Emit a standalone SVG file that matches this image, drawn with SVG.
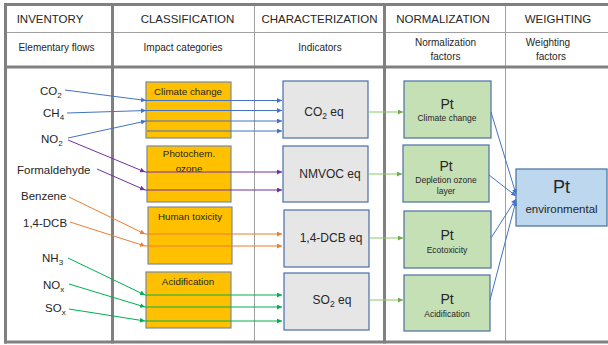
<svg xmlns="http://www.w3.org/2000/svg" width="608" height="345" viewBox="0 0 608 345">
  <style>
    text { font-family: "Liberation Sans", Arial, sans-serif; fill: #262626; }
    .hd { font-size: 11.5px; text-anchor: middle; }
    .sub { font-size: 10px; text-anchor: middle; }
    .flow { font-size: 11.5px; }
    .cat { font-size: 9.8px; text-anchor: middle; }
    .ind { font-size: 12px; text-anchor: middle; }
    .pt { font-size: 14px; text-anchor: middle; }
    .ptl { font-size: 8.5px; text-anchor: middle; }
    .thick { stroke: #808080; stroke-width: 3; fill: none; }
    .thin { stroke: #a0a0a0; stroke-width: 1; fill: none; }
    .catbox { fill: #ffc000; stroke: #7c8aa0; stroke-width: 1.2; }
    .indbox { fill: #e7e6e6; stroke: #4a6fa8; stroke-width: 1.2; }
    .normbox { fill: #c5e0b4; stroke: #4a6fa8; stroke-width: 1.2; }
    .wbox { fill: #bdd7ee; stroke: #41719c; stroke-width: 1.2; }
    .c { fill: none; stroke-width: 1; }
    .blue { stroke: #4472c4; }
    .purple { stroke: #7030a0; }
    .orange { stroke: #ed7d31; }
    .green { stroke: #00b050; }
    .lgreen { stroke: #8cc66a; }
  </style>
  <defs>
    <marker id="ah-blue" viewBox="0 0 6 6" refX="6" refY="3" markerWidth="5" markerHeight="5" markerUnits="userSpaceOnUse" orient="auto"><path d="M0,0 L6,3 L0,6 z" fill="#4472c4"/></marker>
    <marker id="ah-purple" viewBox="0 0 6 6" refX="6" refY="3" markerWidth="5" markerHeight="5" markerUnits="userSpaceOnUse" orient="auto"><path d="M0,0 L6,3 L0,6 z" fill="#7030a0"/></marker>
    <marker id="ah-orange" viewBox="0 0 6 6" refX="6" refY="3" markerWidth="5" markerHeight="5" markerUnits="userSpaceOnUse" orient="auto"><path d="M0,0 L6,3 L0,6 z" fill="#ed7d31"/></marker>
    <marker id="ah-green" viewBox="0 0 6 6" refX="6" refY="3" markerWidth="5" markerHeight="5" markerUnits="userSpaceOnUse" orient="auto"><path d="M0,0 L6,3 L0,6 z" fill="#00b050"/></marker>
    <marker id="ah-lgreen" viewBox="0 0 6 6" refX="6" refY="3" markerWidth="5" markerHeight="5" markerUnits="userSpaceOnUse" orient="auto"><path d="M0,0 L6,3 L0,6 z" fill="#70ad47"/></marker>
  </defs>

  <rect width="608" height="345" fill="#ffffff"/>

  <!-- table grid -->
  <g id="grid">
    <line class="thin" x1="5" y1="32.5" x2="608" y2="32.5"/>
    <line class="thin" x1="254.5" y1="4" x2="254.5" y2="342"/>
    <line class="thin" x1="505.5" y1="4" x2="505.5" y2="342"/>
    <line class="thick" x1="4" y1="4.5" x2="608" y2="4.5"/>
    <line class="thick" x1="4" y1="67" x2="608" y2="67"/>
    <line class="thick" x1="4" y1="342" x2="608" y2="342"/>
    <line class="thick" x1="5.5" y1="3" x2="5.5" y2="343.5"/>
    <line class="thick" x1="112.5" y1="3" x2="112.5" y2="343.5"/>
    <line class="thick" x1="384.5" y1="3" x2="384.5" y2="343.5"/>
  </g>

  <!-- column headers -->
  <g id="headers">
    <text class="hd" x="50" y="23">INVENTORY</text>
    <text class="hd" x="187.5" y="23">CLASSIFICATION</text>
    <text class="hd" x="319.5" y="23">CHARACTERIZATION</text>
    <text class="hd" x="443" y="23">NORMALIZATION</text>
    <text class="hd" x="558" y="23">WEIGHTING</text>
    <text class="sub" x="56.5" y="51">Elementary flows</text>
    <text class="sub" x="183" y="51">Impact categories</text>
    <text class="sub" x="320" y="51">Indicators</text>
    <text class="sub" x="445.5" y="46">Normalization</text>
    <text class="sub" x="445.5" y="60">factors</text>
    <text class="sub" x="548" y="46">Weighting</text>
    <text class="sub" x="551" y="60">factors</text>
  </g>

  <!-- elementary flows -->
  <g id="flows">
    <text class="flow" x="40" y="95">CO<tspan font-size="8" dy="3">2</tspan></text>
    <text class="flow" x="43" y="117">CH<tspan font-size="8" dy="3">4</tspan></text>
    <text class="flow" x="41" y="143">NO<tspan font-size="8" dy="3">2</tspan></text>
    <text class="flow" x="17" y="174">Formaldehyde</text>
    <text class="flow" x="21" y="200">Benzene</text>
    <text class="flow" x="23" y="227">1,4-DCB</text>
    <text class="flow" x="42" y="262">NH<tspan font-size="8" dy="3">3</tspan></text>
    <text class="flow" x="43" y="289">NO<tspan font-size="8" dy="3">x</tspan></text>
    <text class="flow" x="45" y="312">SO<tspan font-size="8" dy="3">x</tspan></text>
  </g>

  <!-- impact categories -->
  <g id="cat-climate">
    <rect class="catbox" x="146" y="82" width="85" height="56"/>
    <text class="cat" x="188" y="95">Climate change</text>
  </g>
  <g id="cat-photochem">
    <rect class="catbox" x="147" y="146" width="84" height="56"/>
    <text class="cat" x="189" y="157">Photochem.</text>
    <text class="cat" x="189" y="172">ozone</text>
  </g>
  <g id="cat-humantox">
    <rect class="catbox" x="148" y="207" width="84" height="57"/>
    <text class="cat" x="190" y="220">Human toxicity</text>
  </g>
  <g id="cat-acid">
    <rect class="catbox" x="146" y="272" width="85" height="56"/>
    <text class="cat" x="188" y="284.5">Acidification</text>
  </g>

  <!-- indicators -->
  <g id="ind-co2">
    <rect class="indbox" x="283" y="81" width="85" height="57"/>
    <text class="ind" x="324" y="116">CO<tspan font-size="8.5" dy="3">2</tspan><tspan dy="-3"> eq</tspan></text>
  </g>
  <g id="ind-nmvoc">
    <rect class="indbox" x="283" y="146" width="85" height="56"/>
    <text class="ind" x="330" y="178">NMVOC eq</text>
  </g>
  <g id="ind-dcb">
    <rect class="indbox" x="284" y="210" width="85" height="57"/>
    <text class="ind" x="331" y="242">1,4-DCB eq</text>
  </g>
  <g id="ind-so2">
    <rect class="indbox" x="284" y="273" width="85" height="57"/>
    <text class="ind" x="332" y="304">SO<tspan font-size="8.5" dy="3">2</tspan><tspan dy="-3"> eq</tspan></text>
  </g>

  <!-- normalization -->
  <g id="norm-climate">
    <rect class="normbox" x="404" y="81" width="87" height="57"/>
    <text class="pt" x="447" y="109">Pt</text>
    <text class="ptl" x="447" y="120.5">Climate change</text>
  </g>
  <g id="norm-ozone">
    <rect class="normbox" x="403" y="145" width="86" height="57"/>
    <text class="pt" x="446" y="171">Pt</text>
    <text class="ptl" x="446" y="183">Depletion ozone</text>
    <text class="ptl" x="446" y="193.5">layer</text>
  </g>
  <g id="norm-ecotox">
    <rect class="normbox" x="404" y="211" width="87" height="57"/>
    <text class="pt" x="447" y="240">Pt</text>
    <text class="ptl" x="447" y="252.5">Ecotoxicity</text>
  </g>
  <g id="norm-acid">
    <rect class="normbox" x="404" y="275" width="86" height="56"/>
    <text class="pt" x="447" y="304">Pt</text>
    <text class="ptl" x="447" y="316.5">Acidification</text>
  </g>

  <!-- weighting -->
  <g id="weight-env">
    <rect class="wbox" x="516" y="169" width="91" height="57"/>
    <text x="561.5" y="193" font-size="18" text-anchor="middle">Pt</text>
    <text x="561.5" y="213" font-size="11.5" text-anchor="middle">environmental</text>
  </g>

  <!-- connectors -->
  <g id="connectors">
    <path class="c blue" d="M65,90 L146,100.5" marker-end="url(#ah-blue)"/>
    <path class="c blue" d="M146,100.5 L282,100.5" marker-end="url(#ah-blue)"/>
    <path class="c blue" d="M67,113 L146,110.5" marker-end="url(#ah-blue)"/>
    <path class="c blue" d="M146,110.5 L282,110.5" marker-end="url(#ah-blue)"/>
    <path class="c blue" d="M68,138 L146,121" marker-end="url(#ah-blue)"/>
    <path class="c blue" d="M146,121 L282,121" marker-end="url(#ah-blue)"/>
    <path class="c blue" d="M147,131 L282,131" marker-end="url(#ah-blue)"/>

    <path class="c purple" d="M68,140 L145,172" marker-end="url(#ah-purple)"/>
    <path class="c purple" d="M145,172 L282,172" marker-end="url(#ah-purple)"/>
    <path class="c purple" d="M97,169 L145,190" marker-end="url(#ah-purple)"/>
    <path class="c purple" d="M145,190 L282,190" marker-end="url(#ah-purple)"/>

    <path class="c orange" d="M69,197 L145,234" marker-end="url(#ah-orange)"/>
    <path class="c orange" d="M145,234 L282,234" marker-end="url(#ah-orange)"/>
    <path class="c orange" d="M70,222 L145,246" marker-end="url(#ah-orange)"/>
    <path class="c orange" d="M145,246 L282,246" marker-end="url(#ah-orange)"/>

    <path class="c green" d="M68,258 L145,295" marker-end="url(#ah-green)"/>
    <path class="c green" d="M145,295 L282,295" marker-end="url(#ah-green)"/>
    <path class="c green" d="M69,284 L145,307" marker-end="url(#ah-green)"/>
    <path class="c green" d="M145,307 L282,307" marker-end="url(#ah-green)"/>
    <path class="c green" d="M69,309 L145,321" marker-end="url(#ah-green)"/>
    <path class="c green" d="M145,321 L282,321" marker-end="url(#ah-green)"/>

    <path class="c lgreen" d="M368,112 L403,112" marker-end="url(#ah-lgreen)"/>
    <path class="c lgreen" d="M368,174 L402,174" marker-end="url(#ah-lgreen)"/>
    <path class="c lgreen" d="M369,238 L403,238" marker-end="url(#ah-lgreen)"/>
    <path class="c lgreen" d="M369,300 L403,300" marker-end="url(#ah-lgreen)"/>

    <path class="c blue" d="M491,112 L516,194" marker-end="url(#ah-blue)"/>
    <path class="c blue" d="M489,175 L516,196" marker-end="url(#ah-blue)"/>
    <path class="c blue" d="M491,238 L516,199" marker-end="url(#ah-blue)"/>
    <path class="c blue" d="M490,300 L516,201" marker-end="url(#ah-blue)"/>
  </g>
</svg>
